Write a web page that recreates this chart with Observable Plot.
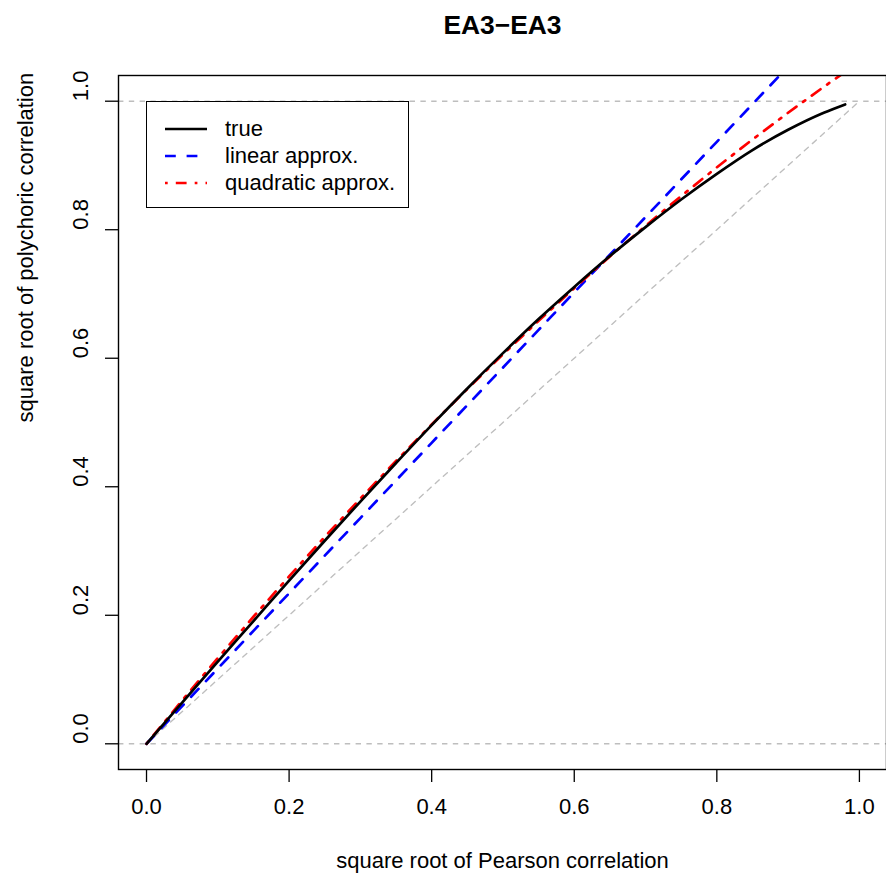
<!DOCTYPE html>
<html>
<head>
<meta charset="utf-8">
<script src="https://cdn.jsdelivr.net/npm/d3@7"></script>
<script src="https://cdn.jsdelivr.net/npm/@observablehq/plot@0.6"></script>
<style>
  html, body { margin: 0; padding: 0; background: #fff; }
  #wrap { position: relative; width: 886px; height: 878px; overflow: hidden; font-family: "Liberation Sans", Arial, Helvetica, sans-serif; }
  #legend { position: absolute; left: 146px; top: 101px; width: 263px; height: 107px; border: 1.4px solid #000; background: #fff; box-sizing: border-box; }
  .row { position: absolute; left: 0; height: 26px; display: flex; align-items: center; font-size: 22px; color: #000; white-space: nowrap; }
  .row svg { margin-left: 18px; margin-right: 18px; }
</style>
</head>
<body>
<div id="wrap"></div>
<script>
// ---- data ----
const title = "EA3\u2212EA3";
const xTitle = "square root of Pearson correlation";
const yTitle = "square root of polychoric correlation";
const xTicks = [0, 0.2, 0.4, 0.6, 0.8, 1.0];
const yTicks = [0, 0.2, 0.4, 0.6, 0.8, 1.0];
const seriesNames = ["true", "linear approx.", "quadratic approx."];

const xs     = [0, 0.05, 0.10, 0.15, 0.20, 0.25, 0.30, 0.35, 0.40, 0.45, 0.50, 0.55, 0.60, 0.65, 0.70, 0.75, 0.80, 0.85, 0.90, 0.95, 0.98];
const trueY  = [0, 0.064, 0.128, 0.191, 0.254, 0.316, 0.377, 0.437, 0.496, 0.553, 0.608, 0.661, 0.711, 0.759, 0.804, 0.847, 0.887, 0.924, 0.9555, 0.982, 0.995];
const linY   = [0, 0.0586, 0.1171, 0.1757, 0.2342, 0.2928, 0.3513, 0.4099, 0.4684, 0.5270, 0.5855, 0.6441, 0.7026, 0.7612, 0.8197, 0.8783, 0.9368, 0.9954, 1.0539, 1.1125, 1.1476];
const quadY  = [0, 0.0674, 0.1333, 0.1977, 0.2605, 0.3219, 0.3817, 0.4401, 0.4969, 0.5522, 0.6060, 0.6583, 0.7091, 0.7584, 0.8061, 0.8524, 0.8971, 0.9404, 0.9821, 1.0223, 1.0457];
const diagX  = [0, 1];
const diagY  = [0, 1];
const refH   = [0, 1];

// ---- build tables ----
const tTrue = xs.map((x, i) => ({x, y: trueY[i]}));
const tLin  = xs.map((x, i) => ({x, y: linY[i]}));
const tQuad = xs.map((x, i) => ({x, y: quadY[i]}));
const tDiag = diagX.map((x, i) => ({x, y: diagY[i]}));

const FS = 22;
const grey = "#BEBEBE";
const fmt = d3.format(".1f");

const chart = Plot.plot({
  width: 886,
  height: 878,
  marginLeft: 118,
  marginRight: 0,
  marginTop: 75,
  marginBottom: 109,
  x: { domain: [-0.0393, 1.038] },
  y: { domain: [-0.04, 1.04] },
  style: { fontFamily: "'Liberation Sans', Arial, Helvetica, sans-serif", fontSize: FS + "px", color: "#000", background: "#fff", overflow: "visible" },
  marks: [
    Plot.ruleY(refH, { stroke: grey, strokeWidth: 1.35, strokeDasharray: "5.4,5.4" }),
    Plot.line(tDiag, { x: "x", y: "y", stroke: grey, strokeWidth: 1.35, strokeDasharray: "5.4,5.4" }),
    Plot.line(tLin, { x: "x", y: "y", stroke: "#0000FF", strokeWidth: 2.7, strokeDasharray: "10.8,10.8", clip: true }),
    Plot.line(tQuad, { x: "x", y: "y", stroke: "#FF0000", strokeWidth: 2.7, strokeDasharray: "2.7,8.1,10.8,8.1", clip: true }),
    Plot.line(tTrue, { x: "x", y: "y", stroke: "#000", strokeWidth: 2.7, curve: "monotone-x" }),
    Plot.frame({ stroke: "#000", strokeWidth: 1.4 }),
    Plot.axisX(xTicks, { anchor: "bottom", tickSize: 13, tickPadding: 16, tickFormat: fmt, fontSize: FS, strokeWidth: 1.3, label: null }),
    Plot.axisY(yTicks, { anchor: "left", tickSize: 13, tickFormat: () => "", strokeWidth: 1.3, label: null }),
    Plot.text(yTicks, { y: d => d, text: d => fmt(d), frameAnchor: "left", dx: -38, rotate: -90, fontSize: FS }),
    Plot.text([xTitle], { text: d => d, frameAnchor: "bottom", dy: 98, fontSize: FS }),
    Plot.text([yTitle], { text: d => d, frameAnchor: "left", dx: -93, rotate: -90, fontSize: FS }),
    Plot.text([title], { text: d => d, frameAnchor: "top", dy: -60, fontSize: 26.4, fontWeight: "bold" })
  ]
});

const wrap = document.getElementById("wrap");
wrap.appendChild(chart);

// ---- legend (HTML overlay) ----
const legend = document.createElement("div");
legend.id = "legend";
const styles = [
  { stroke: "#000", dash: null },
  { stroke: "#0000FF", dash: "10.8,10.8" },
  { stroke: "#FF0000", dash: "2.7,8.1,10.8,8.1" }
];
const rowTops = [14, 41, 68];
seriesNames.forEach((name, i) => {
  const row = document.createElement("div");
  row.className = "row";
  row.style.top = rowTops[i] + "px";
  const s = styles[i];
  row.innerHTML = `<svg width="42" height="10"><line x1="0" y1="5" x2="42" y2="5" stroke="${s.stroke}" stroke-width="2.7" ${s.dash ? `stroke-dasharray="${s.dash}"` : ""}/></svg><span>${name}</span>`;
  legend.appendChild(row);
});
wrap.appendChild(legend);
</script>
</body>
</html>
